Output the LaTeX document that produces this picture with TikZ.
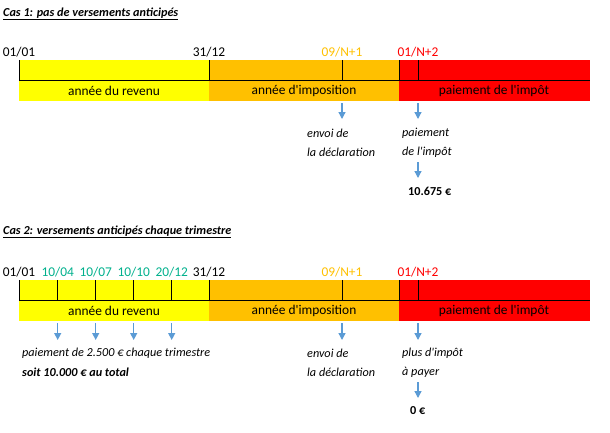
\documentclass[tikz,border=0pt]{standalone}
\usepackage{fontspec}
\setmainfont{Carlito}[Ligatures=TeXOff]
\usetikzlibrary{arrows.meta}
\definecolor{ylw}{RGB}{255,255,0}
\definecolor{org}{RGB}{255,192,0}
\definecolor{rd}{RGB}{255,0,0}
\definecolor{teal2}{RGB}{0,176,140}
\definecolor{arrowblue}{RGB}{91,155,213}
\tikzset{
  txt/.style={inner sep=0pt, font=\fontsize{13.4}{16}\selectfont},
  lbl/.style={txt, anchor=center},
  itl/.style={txt, anchor=west, font=\fontsize{12.2}{15}\selectfont\itshape},
  bld/.style={txt, anchor=west, font=\fontsize{12.2}{15}\selectfont\bfseries},
  ttl/.style={txt, anchor=west, font=\fontsize{12.2}{15}\selectfont\bfseries\itshape},
  arr/.style={draw=arrowblue, line width=1.3pt, -{Triangle[width=7pt,length=7pt]}},
  sep/.style={draw=black, line width=0.9pt}
}
\begin{document}
\begin{tikzpicture}[x=1pt,y=-1pt]
\useasboundingbox (0,0) rectangle (610,432);

% ---------- Case 1 ----------
\node[ttl] (t1) at (3,14) {\underline{Cas 1: pas de versements anticipés}};

\fill[ylw] (19,60) rectangle (209,101);
\fill[org] (209,60) rectangle (399,101);
\fill[rd] (399,60) rectangle (590,101);
\draw[sep] (19,80.5) -- (590,80.5);
\foreach \x in {19,209,342,399,418} \draw[sep] (\x,60) -- (\x,80.5);

\node[lbl] (d1a) at (19,52) {01/01};
\node[lbl] (d1b) at (209,52) {31/12};
\node[lbl, text=org] (d1c) at (342,52) {09/N+1};
\node[lbl, text=rd] (d1d) at (418,52) {01/N+2};

\node[lbl] (p1a) at (114,91) {année du revenu};
\node[lbl] (p1b) at (304,91) {année d'imposition};
\node[lbl] (p1c) at (494,91) {paiement de l'impôt};

\coordinate (a1s) at (342,103);
\coordinate (a1e) at (342,119);
\draw[arr] (a1s) -- (a1e);
\coordinate (a2s) at (418,103);
\coordinate (a2e) at (418,119);
\draw[arr] (a2s) -- (a2e);

\node[itl] (e1a) at (307,133) {envoi de};
\node[itl] (e1b) at (307,152) {la déclaration};
\node[itl] (e1c) at (402,133) {paiement};
\node[itl] (e1d) at (402,152) {de l'impôt};

\coordinate (a3s) at (418,162);
\coordinate (a3e) at (418,178);
\draw[arr] (a3s) -- (a3e);
\node[bld] (m1) at (408,191) {10.675 €};

% ---------- Case 2 ----------
\node[ttl] (t2) at (3,232) {\underline{Cas 2: versements anticipés chaque trimestre}};

\fill[ylw] (19,280) rectangle (209,321);
\fill[org] (209,280) rectangle (399,321);
\fill[rd] (399,280) rectangle (590,321);
\draw[sep] (19,300.5) -- (590,300.5);
\foreach \x in {19,57.7,95.7,133.7,171.7,209,342,399,418} \draw[sep] (\x,280) -- (\x,300.5);

\node[lbl] (d2a) at (19,272) {01/01};
\node[lbl, text=teal2] (d2b) at (57.7,272) {10/04};
\node[lbl, text=teal2] (d2c) at (95.7,272) {10/07};
\node[lbl, text=teal2] (d2d) at (133.7,272) {10/10};
\node[lbl, text=teal2] (d2e) at (171.7,272) {20/12};
\node[lbl] (d2f) at (209,272) {31/12};
\node[lbl, text=org] (d2g) at (342,272) {09/N+1};
\node[lbl, text=rd] (d2h) at (418,272) {01/N+2};

\node[lbl] (p2a) at (114,311) {année du revenu};
\node[lbl] (p2b) at (304,311) {année d'imposition};
\node[lbl] (p2c) at (494,311) {paiement de l'impôt};

\foreach \x/\n in {57.7/q1,95.7/q2,133.7/q3,171.7/q4,342/q5,418/q6} {
  \coordinate (\n s) at (\x,323);
  \coordinate (\n e) at (\x,340);
  \draw[arr] (\n s) -- (\n e);
}

\node[itl] (e2a) at (22,353) {paiement de 2.500 € chaque trimestre};
\node[ttl] (e2b) at (22,372) {soit 10.000 € au total};
\node[itl] (e2c) at (307,353) {envoi de};
\node[itl] (e2d) at (307,372) {la déclaration};
\node[itl] (e2e) at (402,353) {plus d'impôt};
\node[itl] (e2f) at (402,372) {à payer};

\coordinate (a4s) at (418,382);
\coordinate (a4e) at (418,398);
\draw[arr] (a4s) -- (a4e);
\node[bld] (m2) at (410,411) {0 €};
\end{tikzpicture}
\end{document}
